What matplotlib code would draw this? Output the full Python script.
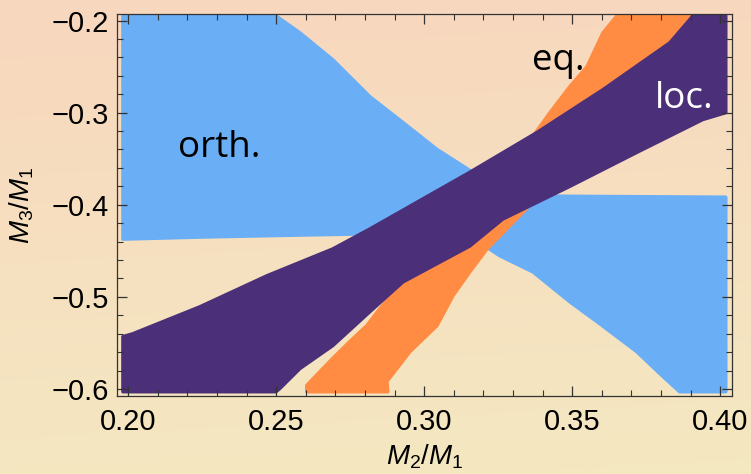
import numpy as np
import matplotlib
matplotlib.use("Agg")
import matplotlib.pyplot as plt
from matplotlib.ticker import MultipleLocator

plt.rcParams['font.family'] = ['Liberation Sans', 'DejaVu Sans']
plt.rcParams['mathtext.fontset'] = 'custom'
plt.rcParams['mathtext.rm'] = 'Liberation Sans'
plt.rcParams['mathtext.it'] = 'Liberation Sans:italic'

# region outlines (M2/M1, M3/M1)
orth_x = [0.1982, 0.2499, 0.2580, 0.2691, 0.2816, 0.2928, 0.3043, 0.3164, 0.3195,
          0.3256, 0.3367, 0.3492, 0.3593, 0.3718, 0.3796, 0.3863, 0.4019, 0.4019,
          0.3425, 0.2768, 0.2580, 0.2242, 0.1982]
orth_y = [-0.195, -0.195, -0.2134, -0.2426, -0.2826, -0.3107, -0.3399, -0.3648, -0.4426,
          -0.4555, -0.4728, -0.5053, -0.5291, -0.5594, -0.5832, -0.603, -0.603, -0.3918,
          -0.3907, -0.4318, -0.4329, -0.4351, -0.4373]

eq_x = [0.2603, 0.2603, 0.2648, 0.2691, 0.2749, 0.2806, 0.2850, 0.3367, 0.3425, 0.3492,
        0.3550, 0.3604, 0.3651, 0.3931, 0.3458, 0.3212, 0.3154, 0.3097, 0.3043, 0.2952,
        0.2874, 0.2877]
eq_y = [-0.603, -0.5962, -0.581, -0.5668, -0.5484, -0.5313, -0.5128, -0.3259, -0.300, -0.2718,
        -0.2502, -0.2134, -0.195, -0.195, -0.367, -0.448, -0.4729, -0.4988, -0.5313, -0.5594,
        -0.5918, -0.603]

loc_x = [0.1982, 0.2016, 0.2242, 0.2468, 0.2691, 0.2816, 0.3154, 0.3381, 0.3604, 0.3830,
         0.3908, 0.4019, 0.4019, 0.3941, 0.3718, 0.3492, 0.3265, 0.3154, 0.2928, 0.2816,
         0.2691, 0.2580, 0.2512, 0.2499, 0.1982]
loc_y = [-0.5432, -0.540, -0.5108, -0.4772, -0.448, -0.4264, -0.3648, -0.3216, -0.2751, -0.2242,
         -0.195, -0.195, -0.300, -0.3075, -0.3432, -0.380, -0.4156, -0.4448, -0.4838, -0.5162,
         -0.5529, -0.5778, -0.5995, -0.603, -0.603]

fig = plt.figure(figsize=(7.51, 4.74), dpi=100)

# background gradient over the whole figure
bg = fig.add_axes([0, 0, 1, 1], zorder=-1)
yy, xx = np.mgrid[0:1:200j, 0:1:300j]
t = np.clip(0.95 * yy + 0.1 * (1 - np.abs(xx - 0.5) * 2) * 0 + 0.08 * xx, 0, 1)
top = np.array([248, 215, 190]) / 255
bot = np.array([244, 232, 193]) / 255
img = top[None, None, :] * (1 - t[..., None]) + bot[None, None, :] * t[..., None]
bg.imshow(img, aspect='auto', extent=[0, 1, 0, 1], origin='upper')
bg.axis('off')

ax = fig.add_axes([0.1558, 0.1646, 0.8189, 0.8059])
ax.set_facecolor('none')

ax.fill(orth_x, orth_y, color='#6aaef5', lw=2.5, joinstyle='round')
ax.fill(eq_x, eq_y, color='#ff8c42', lw=2.5, joinstyle='round')
ax.fill(loc_x, loc_y, color='#4b2f78', lw=2.5, joinstyle='round')

ax.text(0.2168, -0.3486, 'orth.', fontsize=26.5, family='Open Sans', color='black')
ax.text(0.3364, -0.2534, 'eq.', fontsize=26.5, family='Open Sans', color='black')
ax.text(0.3779, -0.2945, 'loc.', fontsize=26.5, family='Open Sans', color='white')

ax.set_xlim(0.1962, 0.404)
ax.set_ylim(-0.6076, -0.1929)
ax.xaxis.set_major_locator(MultipleLocator(0.05))
ax.xaxis.set_minor_locator(MultipleLocator(0.01))
ax.yaxis.set_major_locator(MultipleLocator(0.1))
ax.yaxis.set_minor_locator(MultipleLocator(0.02))
ax.xaxis.set_major_formatter(plt.FormatStrFormatter('%.2f'))
ax.yaxis.set_major_formatter(plt.FuncFormatter(lambda v, p: ('%.1f' % v).replace('-', '\u2212')))
ax.tick_params(which='both', direction='in', top=True, right=True, color='#333333',
               labelsize=21)
ax.tick_params(axis='x', pad=9)
ax.tick_params(axis='y', pad=6)
ax.tick_params(which='major', length=7, width=0.9)
ax.tick_params(which='minor', length=4, width=0.8)
for s in ax.spines.values():
    s.set_color('#333333')
    s.set_linewidth(0.9)

ax.set_xlabel('$M_2/M_1$', fontsize=20, labelpad=4)
ax.set_ylabel('$M_3/M_1$', fontsize=20, labelpad=11)

fig.savefig('out.png', dpi=100)
